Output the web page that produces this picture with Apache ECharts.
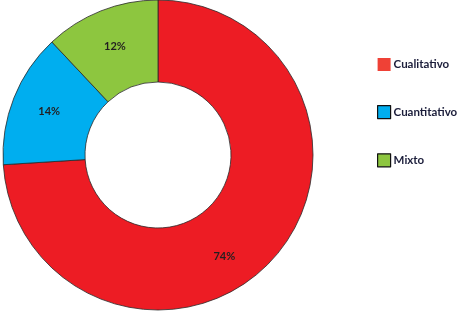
<!DOCTYPE html>
<html><head><meta charset="utf-8">
<script src="https://cdn.jsdelivr.net/npm/echarts@6/dist/echarts.min.js"></script>
<style>html,body{margin:0;padding:0;background:#fff}#c{width:463px;height:313px}</style>
</head><body><div id="c"></div>
<script>
const categories = ['Cualitativo', 'Cuantitativo', 'Mixto'];
const values = [74, 14, 12];
const labels = ['74%', '14%', '12%'];
const colors = ['#ED1C24', '#00AEEF', '#8DC63F'];
const legendColors = ['#EF4136', '#00AEEF', '#8DC63F'];

const chart = echarts.init(document.getElementById('c'), null, {renderer: 'canvas'});
const data = categories.map((c, i) => ({
  name: c, value: values[i],
  itemStyle: {color: colors[i]},
  label: i === 0 ? {offset: [-19, 21]} : {}
}));
chart.setOption({
  animation: false,
  legend: {
    orient: 'vertical', left: 372, top: 53, itemWidth: 13, itemHeight: 13, itemGap: 34,
    icon: 'rect',
    textStyle: {fontFamily: 'Lato', fontWeight: 'bold', fontSize: 11.5, color: '#1b1d3a', padding: [2,0,0,-2]},
    data: categories.map((c, i) => ({
      name: c,
      itemStyle: {color: legendColors[i], borderColor: i === 0 ? legendColors[i] : '#111', borderWidth: i === 0 ? 0 : 1.2}
    }))
  },
  series: [{
    type: 'pie', center: [158, 155], radius: [73, 155],
    startAngle: 90, clockwise: true,
    itemStyle: {borderColor: '#2a2a2a', borderWidth: 0.8},
    label: {
      show: true, position: 'inside',
      formatter: p => labels[p.dataIndex],
      fontFamily: 'Lato', fontWeight: 'bold', fontSize: 11, color: '#231F20'
    },
    labelLine: {show: false},
    emphasis: {disabled: true},
    data: data
  }]
});
</script></body></html>
